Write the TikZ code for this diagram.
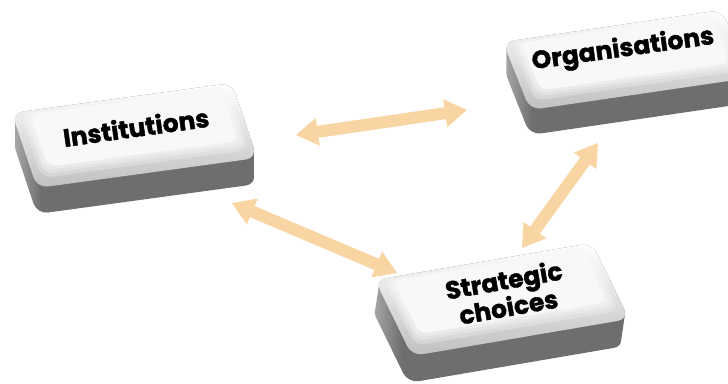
\documentclass[tikz,border=0pt]{standalone}
\usepackage{fontspec}
\newfontfamily\keyfont{Poppins}[BoldFeatures={FakeBold=1.6}]
\usetikzlibrary{arrows.meta,calc}
\definecolor{arrowc}{RGB}{248,213,163}
\definecolor{sidedark}{RGB}{110,110,110}
\definecolor{sidelight}{RGB}{172,172,172}
\definecolor{bevelgray}{RGB}{192,192,192}
\definecolor{facewhite}{RGB}{248,248,248}
\pgfdeclarehorizontalshading{keyside}{100bp}{color(0bp)=(sidelight); color(25bp)=(sidelight); color(28bp)=(sidelight!50!sidedark); color(31bp)=(sidedark); color(100bp)=(sidedark)}
\newcommand\presskey[4]{%
  \begin{scope}[cm={#2}]
    \coordinate (#1tl) at (0,0);
    \coordinate (#1tr) at (1,0);
    \coordinate (#1br) at (1,1);
    \coordinate (#1bl) at (0,1);
  \end{scope}
  \shade[shading=keyside, rounded corners=11pt]
    \foreach \k in {0,...,#4} {
      ($(#1tl)+({\k*#3},-\k)$) -- ($(#1tr)+({\k*#3},-\k)$) -- ($(#1br)+({\k*#3},-\k)$) -- ($(#1bl)+({\k*#3},-\k)$) -- cycle
    };
  \shade[top color=white, bottom color=bevelgray, rounded corners=11pt] (#1tl) -- (#1tr) -- (#1br) -- (#1bl) -- cycle;
  \begin{scope}[cm={#2}]
    \fill[facewhite, opacity=0.3, rounded corners=10pt] (0.035,0.02) -- (0.975,0.02) -- (0.975,0.88) -- (0.035,0.88) -- cycle;
    \fill[facewhite, opacity=0.3, rounded corners=9pt] (0.05,0.03) -- (0.965,0.03) -- (0.965,0.83) -- (0.05,0.83) -- cycle;
    \fill[facewhite, opacity=0.4, rounded corners=9pt] (0.06,0.04) -- (0.955,0.04) -- (0.955,0.79) -- (0.06,0.79) -- cycle;
    \fill[facewhite, rounded corners=8pt] (0.075,0.05) -- (0.945,0.05) -- (0.94,0.75) -- (0.08,0.75) -- cycle;
  \end{scope}
}
\tikzset{
  dblarrow/.style={draw=arrowc, line width=12pt,
    {Triangle[width=28pt,length=22pt,line width=0pt]}-{Triangle[width=28pt,length=22pt,line width=0pt]}},
  keytext/.style={font=\keyfont\bfseries\fontsize{25}{27}\selectfont, inner sep=0pt, align=center}
}
\begin{document}
\begin{tikzpicture}[x=1pt,y=1pt]
\useasboundingbox (0,0) rectangle (728,-383);
\fill[white] (0,0) rectangle (728,-383);
\clip (0,0) rectangle (728,-383);
% connector end points
\coordinate (a1s) at (296,-135); \coordinate (a1e) at (467,-110);
\coordinate (a2s) at (232,-203); \coordinate (a2e) at (397,-273);
\coordinate (a3s) at (522,-248); \coordinate (a3e) at (598,-143);
\draw[dblarrow] (a1s) -- (a1e);
\draw[dblarrow] (a2s) -- (a2e);
\draw[dblarrow] (a3s) -- (a3e);
% keys
\presskey{i}{220,30,25,-75,(12,-113)}{0}{26}
\presskey{o}{219,32,27,-68,(503,-42)}{0}{25}
\presskey{s}{217,37,37,-76,(375,-280)}{-0.15}{27}
\node[keytext, rotate=8] (inst) at (136,-127) {Institutions};
\node[keytext, rotate=8] (org) at (623,-50) {Organisations};
\node[keytext, rotate=10] (strat) at (506,-293) {Strategic\\choices};
\end{tikzpicture}
\end{document}
